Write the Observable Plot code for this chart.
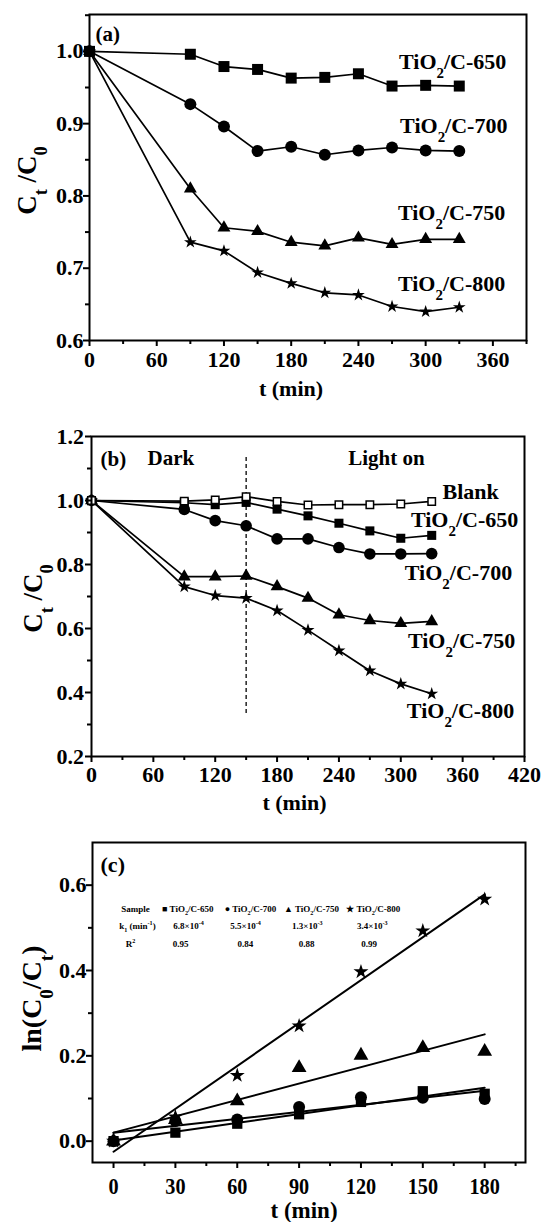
<!DOCTYPE html>
<html><head><meta charset="utf-8">
<script src="https://cdn.jsdelivr.net/npm/d3@7"></script>
<script src="https://cdn.jsdelivr.net/npm/@observablehq/plot@0.6"></script>
<style>
html,body{margin:0;padding:0;background:#fff;overflow:hidden;}
svg{display:block}
svg text{font-family:'Liberation Serif','Times New Roman',serif !important;font-weight:bold !important;}
</style></head><body><div id="chart"></div>
<script>
// ---------------- DATA ----------------
// (a) adsorption in the dark
const seriesKeys = ["650", "700", "750", "800"];
const timeA = [0, 90, 120, 150, 180, 210, 240, 270, 300, 330];
const a650 = [1.0, 0.996, 0.979, 0.975, 0.963, 0.964, 0.969, 0.952, 0.953, 0.952];
const a700 = [1.0, 0.927, 0.896, 0.862, 0.868, 0.857, 0.863, 0.867, 0.863, 0.862];
const a750 = [1.0, 0.810, 0.756, 0.751, 0.736, 0.731, 0.742, 0.733, 0.740, 0.740];
const a800 = [1.0, 0.736, 0.724, 0.694, 0.679, 0.666, 0.663, 0.647, 0.640, 0.646];
const labelsA = ["TiO_{2}/C-650", "TiO_{2}/C-700", "TiO_{2}/C-750", "TiO_{2}/C-800"];

// (b) dark + light
const seriesKeysB = ["Blank", "650", "700", "750", "800"];
const timeB = [0, 90, 120, 150, 180, 210, 240, 270, 300, 330];
const bBlank = [1.0, 0.998, 1.002, 1.012, 0.997, 0.986, 0.987, 0.987, 0.989, 0.997];
const b650 = [1.0, 0.993, 0.987, 0.994, 0.973, 0.952, 0.929, 0.905, 0.882, 0.891];
const b700 = [1.0, 0.972, 0.937, 0.921, 0.880, 0.880, 0.853, 0.833, 0.833, 0.834];
const b750 = [1.0, 0.762, 0.762, 0.764, 0.731, 0.695, 0.643, 0.625, 0.616, 0.622];
const b800 = [1.0, 0.731, 0.703, 0.695, 0.656, 0.595, 0.531, 0.468, 0.427, 0.396];
const labelsB = ["Blank", "TiO_{2}/C-650", "TiO_{2}/C-700", "TiO_{2}/C-750", "TiO_{2}/C-800"];
const lightOnTime = [150];

// (c) kinetics ln(C0/Ct)
const timeC = [0, 30, 60, 90, 120, 150, 180];
const c650 = [0, 0.020, 0.041, 0.063, 0.092, 0.117, 0.111];
const c700 = [0, 0.047, 0.051, 0.080, 0.103, 0.102, 0.099];
const c750 = [0, 0.050, 0.094, 0.172, 0.201, 0.219, 0.210];
const c800 = [0, 0.057, 0.154, 0.270, 0.397, 0.493, 0.567];
const tableHeader = ["Sample", "\u25A0 TiO_{2}/C-650", "\u25CF TiO_{2}/C-700", "\u25B2 TiO_{2}/C-750", "\u2605 TiO_{2}/C-800"];
const tableK = ["k_{1} (min^{-1})", "6.8\u00D710^{-4}", "5.5\u00D710^{-4}", "1.3\u00D710^{-3}", "3.4\u00D710^{-3}"];
const tableR2 = ["R^{2}", "0.95", "0.84", "0.88", "0.99"];

// tick values
const ticksAx = [0, 60, 120, 180, 240, 300, 360], minorAx = [30, 90, 150, 210, 270, 330, 390];
const ticksAy = [0.6, 0.7, 0.8, 0.9, 1.0], minorAy = [0.65, 0.75, 0.85, 0.95, 1.05];
const ticksBx = [0, 60, 120, 180, 240, 300, 360, 420], minorBx = [30, 90, 150, 210, 270, 330, 390];
const ticksBy = [0.2, 0.4, 0.6, 0.8, 1.0, 1.2], minorBy = [0.3, 0.5, 0.7, 0.9, 1.1];
const ticksCx = [0, 30, 60, 90, 120, 150, 180], minorCx = [15, 45, 75, 105, 135, 165, 195];
const ticksCy = [0.0, 0.2, 0.4, 0.6], minorCy = [0.1, 0.3, 0.5];

// annotation positions (data units)
const labelPosA = [[372, 0.986], [373, 0.897], [371, 0.777], [371, 0.678]];
const labelPosB = [[395, 1.028], [414, 0.939], [408, 0.773], [411, 0.561], [410, 0.342]];
const darkLightPos = {b: [8.7, 1.130], dark: [54.3, 1.131], light: [249, 1.132]};
const dashExtent = [0.334, 1.134];
const tableCols = [[10.7, 36, 66.4, 96, 126], [11.6, 36.4, 64, 94, 125.5], [8.2, 32.5, 64, 93.6, 124]];
const tableRows = [0.545, 0.505, 0.462];

// ---------------- STYLE ----------------
const FONT = "'Liberation Serif','Times New Roman',serif";
const W = 544;
const style = () => ({fontFamily: FONT, fontWeight: "bold", fontSize: "22px", background: "white", color: "black", overflow: "visible"});
const fmt1 = d3.format(".1f");
const markerA = {"650": {symbol: "square", r: 6.2}, "700": {symbol: "circle", r: 6}, "750": {symbol: "triangle", r: 4.8}, "800": {symbol: "star", r: 4.0}};
const markerB = {"Blank": {symbol: "square", r: 4.2, fill: "white", stroke: "black", strokeWidth: 1.5}, "650": {symbol: "square", r: 5.1}, "700": {symbol: "circle", r: 5.8}, "750": {symbol: "triangle", r: 4.8}, "800": {symbol: "star", r: 4.1}};
const markerC = {"650": {symbol: "square", r: 5.8}, "700": {symbol: "circle", r: 6.0}, "750": {symbol: "triangle", r: 5.5}, "800": {symbol: "star", r: 4.7}};
const TXT = {fontFamily: FONT, fontWeight: "bold"};

function tidy(keys, times, values) {
  return keys.flatMap((k, i) => times.map((t, j) => ({series: k, t, v: values[i][j]})));
}
function dots(rows, markers) {
  return Object.entries(markers).map(([k, m]) =>
    Plot.dot(rows.filter(d => d.series === k), {x: "t", y: "v", fill: "black", ...m}));
}
function axes(tx, mx, ty, my, xPad, yPad, xFont) {
  return [
    Plot.axisX({ticks: tx, tickSize: 6, tickPadding: xPad, strokeWidth: 2, label: null, tickFormat: d => String(d), fontSize: xFont, ...TXT}),
    Plot.axisX({ticks: mx, tickSize: 4, strokeWidth: 2, label: null, tickFormat: () => ""}),
    Plot.axisY({ticks: ty, tickSize: 6, tickPadding: yPad, strokeWidth: 2, label: null, tickFormat: fmt1, fontSize: 22, ...TXT}),
    Plot.axisY({ticks: my, tickSize: 4, strokeWidth: 2, label: null, tickFormat: () => ""}),
    Plot.frame({strokeWidth: 2})
  ];
}

// rich text: _{sub} and ^{sup}
function richify(svg) {
  svg.querySelectorAll("text").forEach(t => {
    const s = t.textContent;
    if (!/[_^]\{/.test(s)) return;
    const fs = parseFloat(getComputedStyle(t).fontSize);
    while (t.firstChild) t.removeChild(t.firstChild);
    const re = /([_^])\{([^}]*)\}/g;
    let last = 0, shift = 0, m;
    const add = (txt, kind) => {
      if (!txt) return;
      const ts = document.createElementNS("http://www.w3.org/2000/svg", "tspan");
      const target = kind === "_" ? 0.42 * fs : kind === "^" ? -0.4 * fs : 0;
      const dy = target - shift;
      if (dy) ts.setAttribute("dy", dy.toFixed(2));
      shift = target;
      if (kind) ts.setAttribute("font-size", (0.68 * fs).toFixed(2));
      ts.textContent = txt;
      t.appendChild(ts);
    };
    while ((m = re.exec(s))) { add(s.slice(last, m.index), null); add(m[2], m[1]); last = re.lastIndex; }
    add(s.slice(last), null);
  });
}

// ---------------- PANEL A ----------------
const rowsA = tidy(seriesKeys, timeA, [a650, a700, a750, a800]);
const annA = labelsA.map((text, i) => ({text, x: labelPosA[i][0], y: labelPosA[i][1]}));
const plotA = Plot.plot({
  width: W, height: 410, marginTop: 14, marginBottom: 70, marginLeft: 89, marginRight: 18,
  x: {domain: [0, 390]}, y: {domain: [0.6, 1.051]}, style: style(),
  marks: [
    Plot.line(rowsA, {x: "t", y: "v", z: "series", stroke: "black", strokeWidth: 1.7}),
    ...dots(rowsA, markerA),
    ...axes(ticksAx, minorAx, ticksAy, minorAy, 5, 0, 22),
    Plot.text(annA, {x: "x", y: "y", text: "text", textAnchor: "end", fontSize: 22, ...TXT}),
    Plot.text([{text: "(a)", x: 5.4, y: 1.024}], {x: "x", y: "y", text: "text", textAnchor: "start", fontSize: 21, ...TXT}),
    Plot.text(["t (min)"], {frameAnchor: "bottom", lineAnchor: "middle", dx: -17, dy: 48.5, fontSize: 22, ...TXT}),
    Plot.text(["C_{t} /C_{0}"], {frameAnchor: "left", textAnchor: "middle", lineAnchor: "middle", rotate: -90, dx: -62, dy: 3, fontSize: 27, ...TXT})
  ]
});

// ---------------- PANEL B ----------------
const rowsB = tidy(seriesKeysB, timeB, [bBlank, b650, b700, b750, b800]);
const annB = labelsB.map((text, i) => ({text, x: labelPosB[i][0], y: labelPosB[i][1]}));
const plotB = Plot.plot({
  width: W, height: 410, marginTop: 26, marginBottom: 64, marginLeft: 91, marginRight: 20,
  x: {domain: [0, 420]}, y: {domain: [0.2, 1.2]}, style: style(),
  marks: [
    Plot.ruleX(lightOnTime, {y1: dashExtent[0], y2: dashExtent[1], stroke: "black", strokeWidth: 1.3, strokeDasharray: "4,3"}),
    Plot.line(rowsB, {x: "t", y: "v", z: "series", stroke: "black", strokeWidth: 1.7}),
    ...dots(rowsB, markerB),
    ...axes(ticksBx, minorBx, ticksBy, minorBy, 4, 1.5, 22),
    Plot.text(annB, {x: "x", y: "y", text: "text", textAnchor: "end", fontSize: 22, ...TXT}),
    Plot.text([{text: "(b)", p: darkLightPos.b}, {text: "Dark", p: darkLightPos.dark}, {text: "Light on", p: darkLightPos.light}],
      {x: d => d.p[0], y: d => d.p[1], text: "text", textAnchor: "start", fontSize: 21, ...TXT}),
    Plot.text(["t (min)"], {frameAnchor: "bottom", lineAnchor: "middle", dx: -13.5, dy: 46.5, fontSize: 22, ...TXT}),
    Plot.text(["C_{t} /C_{0}"], {frameAnchor: "left", textAnchor: "middle", lineAnchor: "middle", rotate: -90, dx: -58, dy: 2, fontSize: 27, ...TXT})
  ]
});

// ---------------- PANEL C ----------------
const rowsC = tidy(seriesKeys, timeC, [c650, c700, c750, c800]);
const tableCells = [tableHeader, tableK, tableR2].flatMap((row, r) =>
  row.map((text, c) => ({text, x: tableCols[r][c], y: tableRows[r]})));
const plotC = Plot.plot({
  width: W, height: 402, marginTop: 22, marginBottom: 60, marginLeft: 92, marginRight: 19,
  x: {domain: [-10.2, 199.8]}, y: {domain: [-0.05, 0.7]}, style: style(),
  marks: [
    Plot.linearRegressionY(rowsC, {x: "t", y: "v", z: "series", stroke: "black", strokeWidth: 2, ci: 0}),
    ...dots(rowsC, markerC),
    ...axes(ticksCx, minorCx, ticksCy, minorCy, 9, 0, 23),
    Plot.text(tableCells, {x: "x", y: "y", text: "text", textAnchor: "middle", fontSize: 9, ...TXT}),
    Plot.text([{text: "(c)", x: -6.3, y: 0.648}], {x: "x", y: "y", text: "text", textAnchor: "start", fontSize: 22, ...TXT}),
    Plot.text(["t (min)"], {frameAnchor: "bottom", lineAnchor: "middle", dx: -5, dy: 48, fontSize: 23, ...TXT}),
    Plot.text(["ln(C_{0}/C_{t})"], {frameAnchor: "left", textAnchor: "middle", lineAnchor: "middle", rotate: -90, dx: -60, dy: -4, fontSize: 28, ...TXT})
  ]
});

const host = document.getElementById("chart");
[plotA, plotB, plotC].forEach(p => host.appendChild(p));
[plotA, plotB, plotC].forEach(richify);
// narrower, taller tick numerals in panel (c)
plotC.querySelectorAll('g[aria-label="x-axis tick label"] text').forEach(t => {
  const tr = t.getAttribute("transform");
  if (tr) t.setAttribute("transform", tr + " scale(0.88,1)");
});
</script>
</body></html>
